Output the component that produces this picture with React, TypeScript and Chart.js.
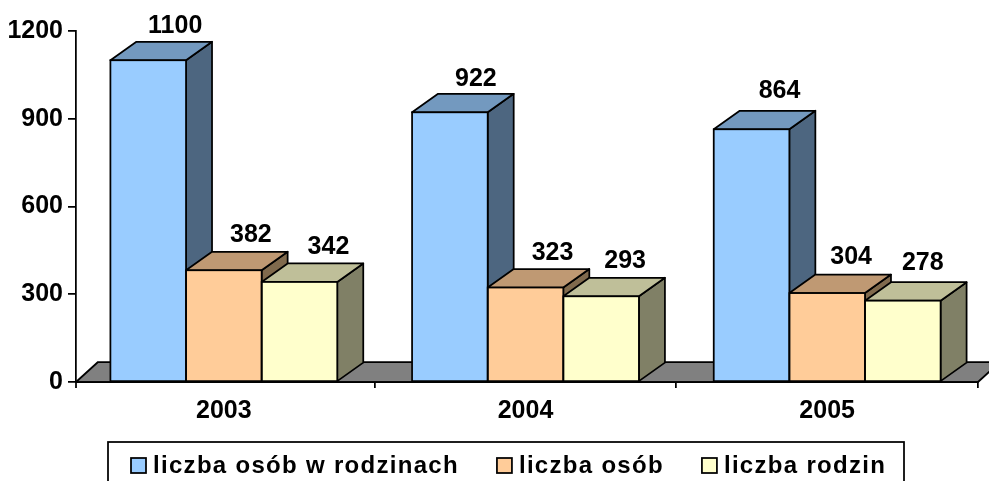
import React, { useEffect, useRef } from "react";
import { Chart, registerables } from "chart.js";

Chart.register(...registerables);

const categories = ["2003", "2004", "2005"];
const seriesNames = ["liczba osób w rodzinach", "liczba osób", "liczba rodzin"];
const peopleInFamilies = [1100, 922, 864];
const people = [382, 323, 304];
const families = [342, 293, 278];
const yTicks = [0, 300, 600, 900, 1200];

const frontColors = ["#99CCFF", "#FFCC99", "#FFFFCC"];
const topColors = ["#7399BF", "#BF9973", "#BFBF99"];
const sideColors = ["#4D6680", "#806A4D", "#808066"];

// The value labels in the reference sit by hand, a little off the bar centre.
const labelNudgeX = [
  [1, 0, 2],
  [1, 1, -2],
  [3, -2, -6],
];
const labelNudgeY = [
  [-1, 0, -5],
  [-2, -1, -3],
  [-1, -2, -4],
];

const FAMILY = "'Liberation Sans', Arial, sans-serif";
const LABEL_FONT = `bold 25px ${FAMILY}`;
const LEGEND_FONT = `bold 24px ${FAMILY}`;
const DEPTH_X = 26;
const DEPTH_Y = 18.5;
const LINE = 1.75;
const AXIS_X = 76;

function poly(ctx: CanvasRenderingContext2D, pts: number[][], fill: string) {
  ctx.beginPath();
  pts.forEach((p, i) => (i ? ctx.lineTo(p[0], p[1]) : ctx.moveTo(p[0], p[1])));
  ctx.closePath();
  ctx.fillStyle = fill;
  ctx.fill();
  ctx.stroke();
}

const bar3d = {
  id: "bar3d",
  afterLayout(chart: any) {
    const y = chart.scales.y;
    const shift = AXIS_X - y.right;
    y.left += shift;
    y.right += shift;
  },
  beforeDatasetsDraw(chart: any) {
    const { ctx, chartArea, scales } = chart;
    const base = scales.y.getPixelForValue(0);
    ctx.save();
    ctx.strokeStyle = "#000";
    ctx.lineWidth = LINE;
    ctx.lineJoin = "round";
    poly(
      ctx,
      [
        [AXIS_X, base],
        [AXIS_X + 22, base - 20],
        [chartArea.right + 22, base - 20],
        [chartArea.right, base],
      ],
      "#808080"
    );
    ctx.beginPath();
    ctx.moveTo(AXIS_X, base);
    ctx.lineTo(AXIS_X, base + 6);
    ctx.stroke();
    // side and top faces, first series first, so later series overlap earlier ones
    chart.data.datasets.forEach((_: any, i: number) => {
      chart.getDatasetMeta(i).data.forEach((el: any) => {
        const l = el.x - el.width / 2;
        const r = el.x + el.width / 2;
        const t = el.y;
        const b = el.base;
        poly(ctx, [[r, t], [r + DEPTH_X, t - DEPTH_Y], [r + DEPTH_X, b - DEPTH_Y], [r, b]], sideColors[i]);
        poly(ctx, [[l, t], [l + DEPTH_X, t - DEPTH_Y], [r + DEPTH_X, t - DEPTH_Y], [r, t]], topColors[i]);
      });
    });
    ctx.restore();
  },
  afterDatasetsDraw(chart: any) {
    const { ctx, chartArea, scales } = chart;
    const base = scales.y.getPixelForValue(0);
    ctx.save();
    ctx.strokeStyle = "#000";
    ctx.lineWidth = LINE;
    chart.data.datasets.forEach((_: any, i: number) => {
      chart.getDatasetMeta(i).data.forEach((el: any) => {
        ctx.strokeRect(el.x - el.width / 2, el.y, el.width, el.base - el.y);
      });
    });
    ctx.beginPath();
    ctx.moveTo(AXIS_X, base);
    ctx.lineTo(chartArea.right, base);
    ctx.stroke();

    // value labels above each bar
    ctx.font = LABEL_FONT;
    ctx.fillStyle = "#000";
    ctx.textAlign = "center";
    ctx.textBaseline = "alphabetic";
    chart.data.datasets.forEach((ds: any, i: number) => {
      chart.getDatasetMeta(i).data.forEach((el: any, j: number) => {
        ctx.fillText(
          String(ds.data[j]),
          el.x + DEPTH_X + labelNudgeX[i][j],
          el.y - DEPTH_Y - 8 + labelNudgeY[i][j]
        );
      });
    });

    // legend
    ctx.font = LEGEND_FONT;
    ctx.strokeRect(108, 442, 796, 60);
    ctx.textAlign = "left";
    (ctx as any).letterSpacing = "1.3px";
    let x = 131;
    chart.data.datasets.forEach((ds: any, i: number) => {
      ctx.fillStyle = frontColors[i];
      ctx.fillRect(x, 458, 15, 15);
      ctx.strokeRect(x, 458, 15, 15);
      ctx.fillStyle = "#000";
      ctx.fillText(ds.label, x + 22, 473);
      x += 22 + ctx.measureText(ds.label).width + 38;
    });
    (ctx as any).letterSpacing = "0px";
    ctx.restore();
  },
};

export default function App() {
  const ref = useRef<HTMLCanvasElement>(null);
  useEffect(() => {
    const seriesValues = [peopleInFamilies, people, families];
    const tickFont = { family: FAMILY, size: 25, weight: "bold" };
    const chart = new Chart(ref.current as HTMLCanvasElement, {
      type: "bar",
      data: {
        labels: categories,
        datasets: seriesValues.map((data, i) => ({
          label: seriesNames[i],
          data,
          backgroundColor: frontColors[i],
          borderWidth: 0,
          barPercentage: 1,
          categoryPercentage: 0.752,
        })),
      },
      options: {
        responsive: false,
        animation: false,
        layout: { autoPadding: false, padding: { top: 31, right: 11, left: 0, bottom: 0 } },
        plugins: { legend: { display: false }, tooltip: { enabled: false } },
        scales: {
          x: {
            afterFit: (s: any) => {
              s.height = 99;
            },
            border: { display: false },
            grid: {
              drawOnChartArea: false,
              tickLength: 6,
              lineWidth: LINE,
              tickColor: (c: any) => (c.index === 0 ? "transparent" : "#000"),
            },
            ticks: { color: "#000", padding: 8, maxRotation: 0, font: tickFont },
          },
          y: {
            min: 0,
            max: yTicks[yTicks.length - 1],
            afterFit: (s: any) => {
              s.width = 73;
            },
            afterBuildTicks: (s: any) => {
              s.ticks = yTicks.map((value) => ({ value }));
            },
            border: { display: true, color: "#000", width: LINE },
            grid: { drawOnChartArea: false, tickLength: 8, lineWidth: LINE, tickColor: "#000" },
            ticks: { color: "#000", padding: 5, font: tickFont, callback: (v: any) => String(v) },
          },
        },
      },
      plugins: [bar3d],
    } as any);
    return () => chart.destroy();
  }, []);
  return (
    <div style={{ position: "absolute", left: 0, top: 0, width: 989, height: 481, overflow: "hidden", background: "#fff" }}>
      <canvas ref={ref} width={989} height={481} style={{ display: "block" }} />
    </div>
  );
}
